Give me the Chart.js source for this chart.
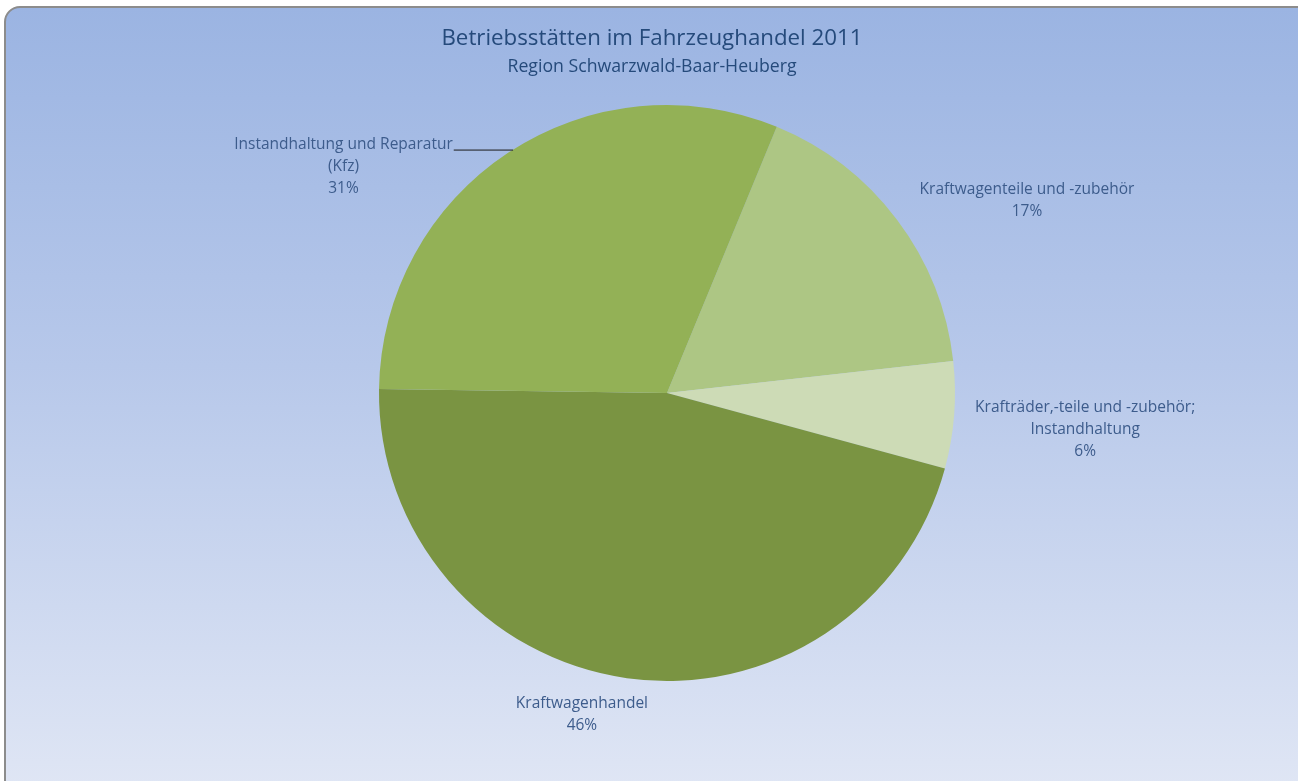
<!DOCTYPE html>
<html>
<head>
<meta charset="utf-8">
<script src="https://cdn.jsdelivr.net/npm/chart.js@4.4.1/dist/chart.umd.min.js"></script>
<style>
  html, body { margin: 0; padding: 0; background: #ffffff; overflow: hidden; }
  #frame {
    position: absolute; left: 4px; top: 6px; width: 1310px; height: 800px;
    border: 2px solid #8c8c8c; border-radius: 16px; box-sizing: border-box;
    background: linear-gradient(to bottom, #9bb4e2 0%, #b7c8ea 45%, #e1e7f5 100%);
  }
  #chart { position: absolute; left: 0; top: 0; }
</style>
</head>
<body>
<div id="frame"></div>
<canvas id="chart" width="1298" height="781"></canvas>
<script>
// Daten
const chartTitle = 'Betriebsstätten im Fahrzeughandel 2011';
const chartSubtitle = 'Region Schwarzwald-Baar-Heuberg';
const categories = [
    ['Kraftwagenteile und -zubehör'],
    ['Krafträder,-teile und -zubehör;', 'Instandhaltung'],
    ['Kraftwagenhandel'],
    ['Instandhaltung und Reparatur', '(Kfz)']
];
const shares = [17, 6, 46, 31];
const sliceColors = ['#adc684', '#cddbb6', '#7a9442', '#93b156'];

// Beschriftungs-Versatz relativ zum Außenpunkt der Segmentmitte
const labelOffsets = [[130, -19], [131, 14], [-45, 36], [-165, 14]];
const leaderLine = [false, false, false, true];

// Titel mittig über dem Rahmen (nicht über dem Kreis)
const titlePlugin = {
    id: 'frameTitle',
    beforeDatasetsDraw(chart) {
        const ctx = chart.ctx;
        const x = chart.width / 2 + 3;
        ctx.save();
        ctx.fillStyle = '#254a7b';
        ctx.textAlign = 'center';
        ctx.textBaseline = 'alphabetic';
        ctx.font = '22.3px "Open Sans"';
        ctx.fillText(chartTitle, x, 45);
        ctx.font = '17.7px "Open Sans"';
        ctx.fillText(chartSubtitle, x, 72);
        ctx.restore();
    }
};

const labelPlugin = {
    id: 'sliceLabels',
    afterDatasetsDraw(chart) {
        const ctx = chart.ctx;
        const meta = chart.getDatasetMeta(0);
        const lh = 22;
        ctx.save();
        ctx.font = '15.5px "Open Sans"';
        ctx.fillStyle = '#3d5c8c';
        ctx.textAlign = 'center';
        ctx.textBaseline = 'middle';
        meta.data.forEach((arc, i) => {
            const mid = (arc.startAngle + arc.endAngle) / 2;
            const ox = arc.x + Math.cos(mid) * arc.outerRadius;
            const oy = arc.y + Math.sin(mid) * arc.outerRadius;
            const cx = ox + labelOffsets[i][0];
            const cy = oy + labelOffsets[i][1];
            const lines = categories[i].concat([shares[i] + '%']);
            const y0 = cy - (lines.length - 1) * lh / 2;
            lines.forEach((t, k) => ctx.fillText(t, cx, y0 + k * lh));
            if (leaderLine[i]) {
                const w = ctx.measureText(lines[0]).width;
                const ly = y0 + 5;
                const dy = ly - arc.y;
                const ex = arc.x - Math.sqrt(Math.max(arc.outerRadius * arc.outerRadius - dy * dy, 0));
                ctx.strokeStyle = '#1a1a1a';
                ctx.lineWidth = 1;
                ctx.beginPath();
                ctx.moveTo(cx + w / 2 + 1, ly + 0.5);
                ctx.lineTo(ex, ly + 0.5);
                ctx.stroke();
            }
        });
        ctx.restore();
    }
};

new Chart(document.getElementById('chart'), {
    type: 'pie',
    data: {
        labels: categories,
        datasets: [{
            data: shares,
            backgroundColor: sliceColors,
            borderWidth: 0,
            hoverOffset: 0
        }]
    },
    options: {
        responsive: false,
        animation: false,
        rotation: 22.4,
        layout: { padding: { left: 36, right: 0, top: 105, bottom: 100 } },
        plugins: {
            legend: { display: false },
            tooltip: { enabled: false },
            title: { display: false }
        }
    },
    plugins: [titlePlugin, labelPlugin]
});
</script>
</body>
</html>
